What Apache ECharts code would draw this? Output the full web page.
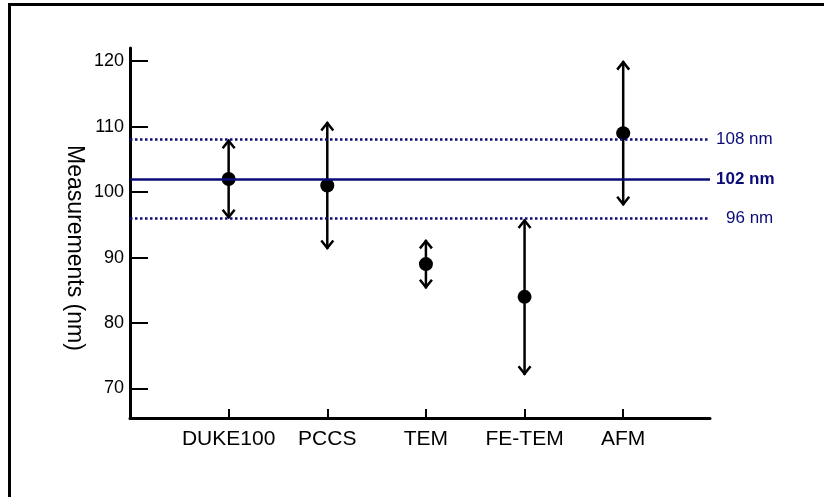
<!DOCTYPE html>
<html>
<head>
    <meta charset="utf-8">
    <title></title>
    <script src="https://cdn.jsdelivr.net/npm/echarts@6/dist/echarts.min.js"></script>
    <style>
        body{
            margin: 0;
            background: #fff;
        }
        #chart{
            width: 824px;
            height: 497px;
        }
        #frame{
            position: absolute;
            left: 8px;
            top: 3px;
            width: 900px;
            height: 600px;
            border-top: 3px solid #000;
            border-left: 3px solid #000;
            pointer-events: none;
        }
    </style>
</head>
<body>
<div id="chart"></div>
<div id="frame"></div>
<script>
    // methods on the x axis, positions 1..5
    var methods = ['DUKE100', 'PCCS', 'TEM', 'FE-TEM', 'AFM'];
    var means = [102, 101, 89, 84, 109];
    var lows = [96, 91.3, 85.3, 72.1, 98];
    var highs = [108, 110.7, 92.7, 95.8, 120];
    // reference lines (nm)
    var refValues = [108, 102, 96];
    var yTicks = [70, 80, 90, 100, 110, 120];

    var navy = '#0c0c78';
    var font = 'Liberation Sans, Arial, sans-serif';

    var points = [];
    var bars = [];
    for (var i = 0; i < methods.length; i++) {
        points.push([i + 1, means[i]]);
        bars.push([i + 1, lows[i], highs[i]]);
    }

    function renderBar(params, api) {
        var lo = api.coord([api.value(0), api.value(1)]);
        var hi = api.coord([api.value(0), api.value(2)]);
        var st = {stroke: '#000', lineWidth: 2.5, fill: null};
        return {
            type: 'group',
            children: [
                {type: 'line', shape: {x1: hi[0], y1: hi[1], x2: lo[0], y2: lo[1]}, style: st},
                {type: 'polyline', shape: {points: [[hi[0] - 6, hi[1] + 8.5], [hi[0], hi[1] + 1], [hi[0] + 6, hi[1] + 8.5]]}, style: st},
                {type: 'polyline', shape: {points: [[lo[0] - 6, lo[1] - 8.5], [lo[0], lo[1] - 1], [lo[0] + 6, lo[1] - 8.5]]}, style: st}
            ]
        };
    }

    var refData = refValues.map(function (v, k) {
        var solid = (k === 1);
        return {
            yAxis: v,
            lineStyle: {color: navy, width: 2.5, type: solid ? 'solid' : [2.5, 2.5]},
            label: {
                show: true,
                position: 'end',
                distance: v < 100 ? 16 : 6,
                formatter: v + ' nm',
                color: navy,
                fontFamily: font,
                fontSize: 17,
                fontWeight: solid ? 'bold' : 'normal'
            }
        };
    });

    var chart = echarts.init(document.getElementById('chart'));
    chart.setOption({
        animation: false,
        grid: {left: 130, right: 114, top: 48, bottom: 79},
        xAxis: {
            type: 'value',
            min: 0,
            max: 5.88,
            splitLine: {show: false},
            axisLine: {lineStyle: {color: '#000', width: 3}},
            axisTick: {inside: true, length: 9, customValues: [1, 2, 3, 4, 5], lineStyle: {color: '#000', width: 2}},
            axisLabel: {
                customValues: [1, 2, 3, 4, 5],
                margin: 11,
                color: '#000',
                fontFamily: font,
                fontSize: 21,
                formatter: function (v) { return methods[v - 1] || ''; }
            }
        },
        yAxis: {
            type: 'value',
            min: 65.5,
            max: 122,
            name: 'Measurements (nm)',
            nameLocation: 'middle',
            nameRotate: -90,
            nameGap: 44,
            nameMoveOverlap: false,
            nameTextStyle: {color: '#000', fontFamily: font, fontSize: 23, padding: [0, 0, 0, 30]},
            splitLine: {show: false},
            axisLine: {lineStyle: {color: '#000', width: 3}},
            axisTick: {inside: true, length: 18, customValues: yTicks, lineStyle: {color: '#000', width: 2}},
            axisLabel: {
                customValues: yTicks,
                margin: 6,
                color: '#000',
                fontFamily: font,
                fontSize: 18
            }
        },
        series: [
            {
                type: 'line',
                data: [],
                markLine: {silent: true, symbol: ['none', 'none'], data: refData}
            },
            {
                type: 'custom',
                renderItem: renderBar,
                data: bars,
                z: 3
            },
            {
                type: 'scatter',
                data: points,
                symbol: 'circle',
                symbolSize: 14,
                itemStyle: {color: '#000', opacity: 1},
                z: 4
            }
        ]
    });
</script>
</body>
</html>
